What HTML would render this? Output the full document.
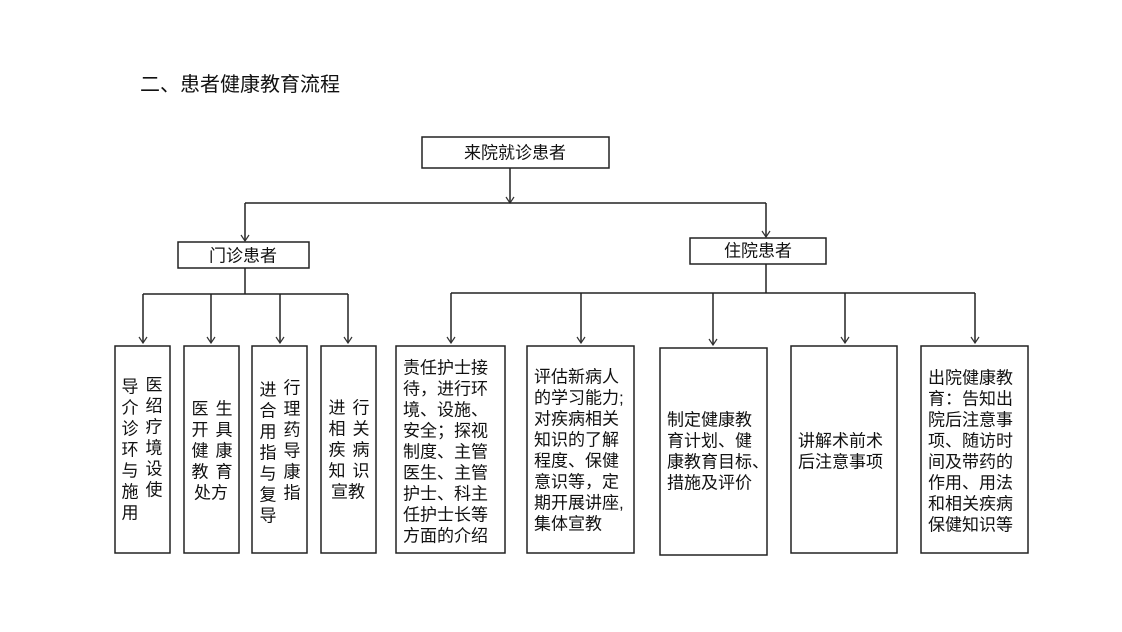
<!DOCTYPE html>
<html><head><meta charset="utf-8"><style>
body{margin:0;background:#fff;}
svg{display:block;}
text{font-family:"Liberation Sans","Noto Sans CJK SC",sans-serif;font-size:17px;fill:#111;dominant-baseline:central;}
</style></head><body>
<svg width="1122" height="632" viewBox="0 0 1122 632" xmlns="http://www.w3.org/2000/svg">
<defs><marker id="a" markerWidth="10" markerHeight="10" refX="9" refY="5" orient="auto" markerUnits="userSpaceOnUse"><path d="M3,1 L9,5 L3,9" fill="none" stroke="#333" stroke-width="1.2"/></marker></defs>
<text x="140" y="85" style="font-size:20px">二、患者健康教育流程</text>
<g fill="none" stroke="#222" stroke-width="1.5">
<rect x="422" y="137" width="187" height="31"/>
<rect x="178" y="242" width="131" height="26"/>
<rect x="690" y="238" width="136" height="26"/>
<rect x="115" y="346" width="55" height="207"/>
<rect x="184" y="346" width="55" height="207"/>
<rect x="252" y="346" width="55" height="207"/>
<rect x="321" y="346" width="55" height="207"/>
<rect x="396" y="346" width="109" height="207"/>
<rect x="527" y="346" width="107" height="207"/>
<rect x="660" y="348" width="107" height="207"/>
<rect x="791" y="346" width="106" height="207"/>
<rect x="921" y="346" width="107" height="207"/>
<line x1="510" y1="168" x2="510" y2="203" marker-end="url(#a)"/>
<line x1="245" y1="203" x2="766" y2="203"/>
<line x1="245" y1="203" x2="245" y2="241" marker-end="url(#a)"/>
<line x1="766" y1="203" x2="766" y2="237" marker-end="url(#a)"/>
<line x1="245" y1="268" x2="245" y2="294"/>
<line x1="143" y1="294" x2="348" y2="294"/>
<line x1="143" y1="294" x2="143" y2="343" marker-end="url(#a)"/>
<line x1="211" y1="294" x2="211" y2="343" marker-end="url(#a)"/>
<line x1="280" y1="294" x2="280" y2="343" marker-end="url(#a)"/>
<line x1="348" y1="294" x2="348" y2="343" marker-end="url(#a)"/>
<line x1="766" y1="264" x2="766" y2="293"/>
<line x1="451" y1="293" x2="975" y2="293"/>
<line x1="451" y1="293" x2="451" y2="343" marker-end="url(#a)"/>
<line x1="581" y1="293" x2="581" y2="343" marker-end="url(#a)"/>
<line x1="713" y1="293" x2="713" y2="345" marker-end="url(#a)"/>
<line x1="845" y1="293" x2="845" y2="343" marker-end="url(#a)"/>
<line x1="975" y1="293" x2="975" y2="343" marker-end="url(#a)"/>
</g>
<text x="515" y="153" text-anchor="middle">来院就诊患者</text>
<text x="243" y="256" text-anchor="middle">门诊患者</text>
<text x="758" y="251" text-anchor="middle">住院患者</text>
<g text-anchor="middle">
<text x="130" y="387">导</text><text x="130" y="408">介</text><text x="130" y="429">诊</text><text x="130" y="450">环</text><text x="130" y="471">与</text><text x="130" y="492">施</text><text x="130" y="513">用</text>
<text x="154" y="385">医</text><text x="154" y="406">绍</text><text x="154" y="427">疗</text><text x="154" y="448">境</text><text x="154" y="469">设</text><text x="154" y="490">使</text>
<text x="200" y="409">医</text><text x="200" y="430">开</text><text x="200" y="451">健</text><text x="200" y="472">教</text>
<text x="224" y="409">生</text><text x="224" y="430">具</text><text x="224" y="451">康</text><text x="224" y="472">育</text>
<text x="211" y="493">处方</text>
<text x="268" y="390">进</text><text x="268" y="411">合</text><text x="268" y="432">用</text><text x="268" y="453">指</text><text x="268" y="474">与</text><text x="268" y="495">复</text><text x="268" y="516">导</text>
<text x="292" y="388">行</text><text x="292" y="409">理</text><text x="292" y="430">药</text><text x="292" y="451">导</text><text x="292" y="472">康</text><text x="292" y="493">指</text>
<text x="337" y="408">进</text><text x="337" y="429">相</text><text x="337" y="450">疾</text><text x="337" y="471">知</text>
<text x="361" y="408">行</text><text x="361" y="429">关</text><text x="361" y="450">病</text><text x="361" y="471">识</text>
<text x="348" y="492">宣教</text>
</g>
<g>
<text x="403" y="368">责任护士接</text><text x="403" y="389">待，进行环</text><text x="403" y="410">境、设施、</text><text x="403" y="431">安全；探视</text><text x="403" y="452">制度、主管</text><text x="403" y="473">医生、主管</text><text x="403" y="494">护士、科主</text><text x="403" y="515">任护士长等</text><text x="403" y="536">方面的介绍</text>
<text x="534" y="377">评估新病人</text><text x="534" y="398">的学习能力;</text><text x="534" y="419">对疾病相关</text><text x="534" y="440">知识的了解</text><text x="534" y="461">程度、保健</text><text x="534" y="482">意识等，定</text><text x="534" y="503">期开展讲座,</text><text x="534" y="524">集体宣教</text>
<text x="667" y="420">制定健康教</text><text x="667" y="441">育计划、健</text><text x="667" y="462">康教育目标、</text><text x="667" y="483">措施及评价</text>
<text x="798" y="441">讲解术前术</text><text x="798" y="462">后注意事项</text>
<text x="928" y="378">出院健康教</text><text x="928" y="399">育：告知出</text><text x="928" y="420">院后注意事</text><text x="928" y="441">项、随访时</text><text x="928" y="462">间及带药的</text><text x="928" y="483">作用、用法</text><text x="928" y="504">和相关疾病</text><text x="928" y="525">保健知识等</text>
</g>
</svg>
</body></html>
